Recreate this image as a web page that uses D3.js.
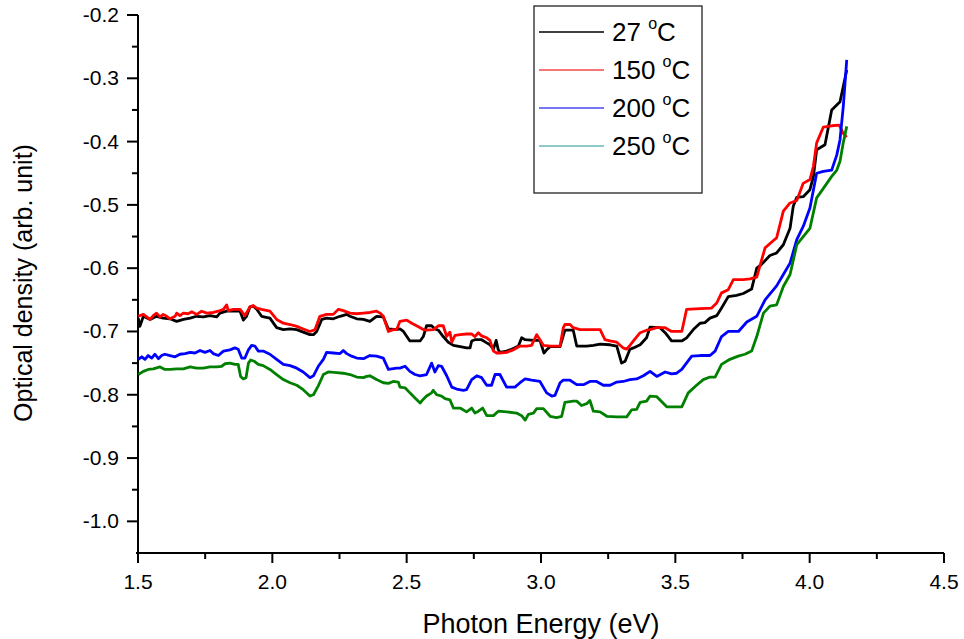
<!DOCTYPE html>
<html>
<head>
<meta charset="utf-8">
<script src="https://cdn.jsdelivr.net/npm/d3@7"></script>
<style>
  html, body { margin: 0; padding: 0; background: #fff; }
  svg { display: block; font-family: "Liberation Sans", Arial, sans-serif; }
</style>
</head>
<body>
<svg id="chart" width="964" height="639"></svg>
<script>
// Optical density spectra, [photon energy (eV), OD] pairs per anneal temperature
const od27 = [[1.501,-0.679],[1.507,-0.692],[1.520,-0.676],[1.545,-0.681],[1.569,-0.676],[1.594,-0.679],[1.619,-0.680],[1.644,-0.684],[1.669,-0.681],[1.694,-0.679],[1.718,-0.676],[1.743,-0.677],[1.768,-0.675],[1.793,-0.677],[1.805,-0.671],[1.830,-0.668],[1.855,-0.668],[1.880,-0.668],[1.892,-0.682],[1.904,-0.676],[1.917,-0.661],[1.929,-0.660],[1.942,-0.665],[1.960,-0.676],[1.991,-0.679],[2.016,-0.694],[2.041,-0.697],[2.066,-0.696],[2.091,-0.697],[2.115,-0.701],[2.140,-0.705],[2.153,-0.705],[2.165,-0.700],[2.184,-0.681],[2.202,-0.679],[2.227,-0.680],[2.252,-0.676],[2.277,-0.673],[2.289,-0.676],[2.314,-0.680],[2.339,-0.681],[2.363,-0.684],[2.388,-0.676],[2.413,-0.677],[2.432,-0.696],[2.463,-0.697],
  [2.475,-0.696],[2.488,-0.700],[2.512,-0.715],[2.550,-0.715],[2.562,-0.708],[2.574,-0.691],[2.593,-0.691],[2.605,-0.696],[2.618,-0.698],[2.636,-0.708],[2.655,-0.717],[2.674,-0.722],[2.699,-0.724],[2.723,-0.726],[2.736,-0.726],[2.742,-0.715],[2.754,-0.713],[2.779,-0.713],[2.798,-0.718],[2.810,-0.721],[2.823,-0.728],[2.833,-0.714],[2.841,-0.729],[2.847,-0.733],[2.872,-0.731],[2.891,-0.728],[2.916,-0.723],[2.928,-0.710],[2.941,-0.713],[2.972,-0.714],[2.996,-0.714],[3.011,-0.734],[3.021,-0.729],[3.034,-0.724],[3.071,-0.724],[3.089,-0.698],[3.120,-0.698],[3.133,-0.723],[3.170,-0.723],[3.195,-0.722],[3.220,-0.720],[3.257,-0.721],[3.282,-0.723],[3.300,-0.750],[3.313,-0.747],[3.331,-0.728],[3.344,-0.726],[3.369,-0.721],[3.393,-0.710],
  [3.406,-0.693],[3.443,-0.694],[3.462,-0.702],[3.486,-0.715],[3.524,-0.715],[3.542,-0.710],[3.567,-0.697],[3.592,-0.687],[3.610,-0.686],[3.629,-0.679],[3.654,-0.675],[3.672,-0.663],[3.697,-0.645],[3.728,-0.643],[3.753,-0.640],[3.784,-0.633],[3.803,-0.600],[3.821,-0.594],[3.852,-0.580],[3.877,-0.576],[3.902,-0.563],[3.927,-0.537],[3.939,-0.502],[3.952,-0.488],[3.976,-0.487],[4.001,-0.476],[4.014,-0.455],[4.026,-0.413],[4.057,-0.405],[4.082,-0.350],[4.113,-0.337],[4.125,-0.313],[4.138,-0.287]];

const od150 = [[1.501,-0.676],[1.520,-0.673],[1.545,-0.681],[1.557,-0.675],[1.569,-0.671],[1.582,-0.677],[1.594,-0.673],[1.607,-0.676],[1.619,-0.680],[1.638,-0.676],[1.644,-0.671],[1.656,-0.675],[1.669,-0.671],[1.687,-0.672],[1.700,-0.669],[1.718,-0.673],[1.737,-0.668],[1.756,-0.671],[1.780,-0.670],[1.799,-0.668],[1.818,-0.665],[1.830,-0.658],[1.836,-0.667],[1.855,-0.665],[1.880,-0.665],[1.898,-0.675],[1.917,-0.661],[1.929,-0.659],[1.942,-0.663],[1.960,-0.665],[1.991,-0.668],[2.016,-0.681],[2.041,-0.687],[2.066,-0.689],[2.091,-0.692],[2.115,-0.696],[2.140,-0.700],[2.159,-0.697],[2.177,-0.676],[2.202,-0.673],[2.227,-0.673],[2.246,-0.665],[2.264,-0.667],[2.289,-0.671],[2.314,-0.672],[2.339,-0.671],[2.363,-0.670],[2.388,-0.668],[2.401,-0.671],[2.413,-0.676],[2.432,-0.700],[2.450,-0.697],[2.463,-0.697],
  [2.475,-0.684],[2.500,-0.682],[2.519,-0.687],[2.537,-0.691],[2.562,-0.697],[2.574,-0.698],[2.599,-0.697],[2.618,-0.691],[2.636,-0.691],[2.649,-0.708],[2.661,-0.701],[2.668,-0.717],[2.680,-0.706],[2.699,-0.705],[2.723,-0.704],[2.742,-0.704],[2.754,-0.708],[2.767,-0.702],[2.779,-0.707],[2.798,-0.710],[2.810,-0.714],[2.823,-0.731],[2.835,-0.734],[2.847,-0.734],[2.872,-0.733],[2.897,-0.729],[2.922,-0.723],[2.947,-0.723],[2.965,-0.722],[2.984,-0.705],[2.996,-0.713],[3.009,-0.722],[3.034,-0.723],[3.071,-0.723],[3.083,-0.694],[3.089,-0.689],[3.108,-0.689],[3.120,-0.694],[3.145,-0.697],[3.170,-0.697],[3.195,-0.697],[3.220,-0.697],[3.238,-0.713],[3.257,-0.715],[3.282,-0.717],[3.306,-0.726],[3.319,-0.728],[3.331,-0.722],[3.344,-0.715],[3.369,-0.702],[3.393,-0.698],
  [3.406,-0.697],[3.431,-0.694],[3.462,-0.694],[3.486,-0.700],[3.524,-0.700],[3.542,-0.665],[3.592,-0.664],[3.635,-0.663],[3.654,-0.655],[3.672,-0.639],[3.697,-0.634],[3.716,-0.618],[3.753,-0.618],[3.778,-0.617],[3.803,-0.614],[3.834,-0.568],[3.877,-0.552],[3.902,-0.510],[3.927,-0.497],[3.952,-0.493],[3.976,-0.466],[4.001,-0.460],[4.014,-0.439],[4.026,-0.402],[4.051,-0.377],[4.082,-0.375],[4.110,-0.374],[4.125,-0.387],[4.138,-0.393]];

const od200 = [[1.501,-0.744],[1.514,-0.740],[1.526,-0.744],[1.538,-0.738],[1.551,-0.742],[1.563,-0.736],[1.576,-0.743],[1.588,-0.738],[1.600,-0.736],[1.619,-0.738],[1.638,-0.740],[1.656,-0.736],[1.675,-0.735],[1.694,-0.733],[1.712,-0.734],[1.731,-0.730],[1.749,-0.733],[1.768,-0.730],[1.780,-0.735],[1.799,-0.738],[1.818,-0.731],[1.842,-0.729],[1.861,-0.726],[1.873,-0.728],[1.886,-0.742],[1.898,-0.742],[1.911,-0.729],[1.923,-0.722],[1.935,-0.723],[1.948,-0.731],[1.966,-0.731],[1.991,-0.736],[2.016,-0.744],[2.041,-0.752],[2.066,-0.754],[2.091,-0.758],[2.115,-0.764],[2.140,-0.773],[2.153,-0.770],[2.171,-0.755],[2.190,-0.744],[2.202,-0.733],[2.227,-0.734],[2.252,-0.735],[2.264,-0.730],[2.277,-0.735],[2.295,-0.739],[2.314,-0.742],[2.339,-0.743],[2.363,-0.738],[2.388,-0.739],[2.413,-0.742],[2.432,-0.760],[2.463,-0.758],
  [2.475,-0.758],[2.494,-0.755],[2.512,-0.763],[2.531,-0.768],[2.550,-0.770],[2.574,-0.768],[2.593,-0.750],[2.605,-0.764],[2.618,-0.754],[2.630,-0.755],[2.649,-0.770],[2.668,-0.788],[2.686,-0.791],[2.711,-0.793],[2.723,-0.792],[2.742,-0.776],[2.761,-0.770],[2.779,-0.773],[2.798,-0.785],[2.816,-0.785],[2.829,-0.768],[2.847,-0.768],[2.872,-0.788],[2.903,-0.788],[2.922,-0.781],[2.941,-0.775],[2.965,-0.777],[2.996,-0.779],[3.021,-0.797],[3.040,-0.802],[3.052,-0.801],[3.071,-0.781],[3.083,-0.777],[3.108,-0.777],[3.133,-0.784],[3.158,-0.784],[3.182,-0.779],[3.207,-0.779],[3.232,-0.785],[3.257,-0.785],[3.282,-0.780],[3.306,-0.779],[3.331,-0.776],[3.356,-0.775],[3.381,-0.770],
  [3.406,-0.763],[3.431,-0.771],[3.462,-0.764],[3.486,-0.767],[3.505,-0.766],[3.524,-0.760],[3.561,-0.739],[3.592,-0.738],[3.629,-0.738],[3.648,-0.731],[3.672,-0.708],[3.697,-0.700],[3.735,-0.700],[3.766,-0.685],[3.803,-0.676],[3.834,-0.650],[3.877,-0.628],[3.902,-0.610],[3.927,-0.592],[3.952,-0.555],[3.976,-0.534],[4.001,-0.505],[4.026,-0.450],[4.051,-0.447],[4.082,-0.445],[4.101,-0.421],[4.113,-0.397],[4.125,-0.345],[4.138,-0.271]];

const od250 = [[1.501,-0.768],[1.520,-0.763],[1.538,-0.760],[1.557,-0.759],[1.582,-0.756],[1.600,-0.760],[1.619,-0.760],[1.644,-0.759],[1.669,-0.759],[1.694,-0.756],[1.718,-0.758],[1.743,-0.758],[1.768,-0.756],[1.793,-0.756],[1.811,-0.755],[1.824,-0.751],[1.842,-0.750],[1.861,-0.752],[1.873,-0.752],[1.882,-0.771],[1.892,-0.775],[1.902,-0.773],[1.911,-0.750],[1.919,-0.745],[1.932,-0.747],[1.948,-0.752],[1.966,-0.754],[1.991,-0.760],[2.016,-0.768],[2.041,-0.776],[2.066,-0.781],[2.091,-0.785],[2.115,-0.792],[2.140,-0.802],[2.153,-0.800],[2.171,-0.786],[2.190,-0.768],[2.208,-0.764],[2.239,-0.765],[2.264,-0.766],[2.289,-0.768],[2.314,-0.772],[2.339,-0.773],[2.351,-0.771],[2.363,-0.770],[2.388,-0.776],[2.413,-0.781],[2.432,-0.782],[2.450,-0.779],[2.469,-0.780],
  [2.475,-0.788],[2.494,-0.789],[2.512,-0.797],[2.531,-0.805],[2.550,-0.813],[2.562,-0.807],[2.574,-0.802],[2.593,-0.797],[2.599,-0.793],[2.612,-0.800],[2.630,-0.802],[2.643,-0.806],[2.661,-0.808],[2.674,-0.821],[2.699,-0.821],[2.723,-0.827],[2.742,-0.821],[2.754,-0.829],[2.767,-0.826],[2.783,-0.821],[2.798,-0.833],[2.823,-0.833],[2.841,-0.826],[2.872,-0.827],[2.909,-0.829],[2.928,-0.833],[2.941,-0.840],[2.953,-0.831],[2.972,-0.829],[2.984,-0.822],[3.009,-0.822],[3.034,-0.834],[3.058,-0.836],[3.077,-0.834],[3.089,-0.812],[3.120,-0.810],[3.133,-0.810],[3.151,-0.817],[3.170,-0.814],[3.182,-0.809],[3.195,-0.826],[3.220,-0.827],[3.245,-0.834],[3.282,-0.835],[3.319,-0.835],[3.337,-0.824],[3.356,-0.823],[3.369,-0.812],[3.393,-0.810],
  [3.406,-0.802],[3.431,-0.803],[3.468,-0.819],[3.524,-0.819],[3.548,-0.797],[3.579,-0.785],[3.604,-0.776],[3.629,-0.772],[3.648,-0.772],[3.672,-0.752],[3.703,-0.744],[3.734,-0.739],[3.759,-0.736],[3.784,-0.731],[3.803,-0.708],[3.828,-0.671],[3.852,-0.660],[3.877,-0.658],[3.902,-0.629],[3.927,-0.610],[3.952,-0.563],[3.976,-0.550],[4.001,-0.537],[4.026,-0.489],[4.051,-0.474],[4.082,-0.455],[4.101,-0.445],[4.113,-0.431],[4.125,-0.402],[4.138,-0.376]];

const temperatures = ["27", "150", "200", "250"];
const lineColors = ["#000000", "#ff0000", "#0000ff", "#008000"];
const legendColors = ["#000000", "#f04a4a", "#4a4af0", "#6ab8b8"];
const xTicks = [1.5, 2.0, 2.5, 3.0, 3.5, 4.0, 4.5];
const yTicks = [-0.2, -0.3, -0.4, -0.5, -0.6, -0.7, -0.8, -0.9, -1.0];

const series = [od27, od150, od200, od250];

// one decimal, plain hyphen-minus for negatives
const fmt = d => d3.format(".1f")(d).replace("\u2212", "-");

const svg = d3.select("#chart");
const x = d3.scaleLinear().domain([1.5, 4.5]).range([138, 944]);
const y = d3.scaleLinear().domain([-1.05, -0.2]).range([553, 15]);

// bottom axis with major + minor ticks
const xAxisG = svg.append("g").attr("transform", "translate(0,553)");
xAxisG.append("line").attr("x1", 136).attr("x2", 944).attr("stroke", "#000").attr("stroke-width", 2);
xAxisG.call(g => {
  const minors = d3.range(1.75, 4.5, 0.5);
  g.selectAll(".minor").data(minors).join("line")
    .attr("x1", d => x(d)).attr("x2", d => x(d))
    .attr("y1", 0).attr("y2", 6).attr("stroke", "#000").attr("stroke-width", 2);
  g.selectAll(".major").data(xTicks).join("line")
    .attr("x1", d => x(d)).attr("x2", d => x(d))
    .attr("y1", 0).attr("y2", 10).attr("stroke", "#000").attr("stroke-width", 2);
  g.selectAll(".lbl").data(xTicks).join("text")
    .attr("x", d => x(d)).attr("y", 36)
    .attr("text-anchor", "middle").attr("font-size", 21)
    .text(fmt);
});

// left axis
const yAxisG = svg.append("g").attr("transform", "translate(138,0)");
yAxisG.append("line").attr("y1", 15).attr("y2", 563).attr("stroke", "#000").attr("stroke-width", 2);
yAxisG.call(g => {
  const minors = d3.range(-0.25, -1.05, -0.1);
  g.selectAll(".minor").data(minors).join("line")
    .attr("y1", d => y(d)).attr("y2", d => y(d))
    .attr("x1", 0).attr("x2", -6).attr("stroke", "#000").attr("stroke-width", 2);
  g.selectAll(".major").data(yTicks).join("line")
    .attr("y1", d => y(d)).attr("y2", d => y(d))
    .attr("x1", 0).attr("x2", -11).attr("stroke", "#000").attr("stroke-width", 2);
  g.selectAll(".lbl").data(yTicks).join("text")
    .attr("x", -19).attr("y", d => y(d) + 7)
    .attr("text-anchor", "end").attr("font-size", 21)
    .text(fmt);
});

// axis titles
svg.append("text").attr("x", 541).attr("y", 633).attr("text-anchor", "middle")
  .attr("font-size", 27).text("Photon Energy (eV)");
svg.append("text").attr("transform", "translate(32,283) rotate(-90)")
  .attr("text-anchor", "middle").attr("font-size", 25).text("Optical density (arb. unit)");

// spectra
const line = d3.line().x(d => x(d[0])).y(d => y(d[1]));
svg.append("g").selectAll("path").data(series).join("path")
  .attr("d", line)
  .attr("fill", "none")
  .attr("stroke", (d, i) => lineColors[i])
  .attr("stroke-width", 2.8)
  .attr("stroke-linejoin", "round");

// legend
const lg = svg.append("g");
lg.append("rect").attr("x", 534).attr("y", 6).attr("width", 168).attr("height", 187)
  .attr("fill", "#fff").attr("stroke", "#222").attr("stroke-width", 1.3);
const rows = lg.selectAll(".row").data(temperatures).join("g")
  .attr("transform", (d, i) => `translate(0,${32 + i * 38})`);
rows.append("line").attr("x1", 539).attr("x2", 604).attr("y1", 0).attr("y2", 0)
  .attr("stroke", (d, i) => legendColors[i]).attr("stroke-width", 1.6);
const t = rows.append("text").attr("x", 612).attr("y", 9).attr("font-size", 26);
t.append("tspan").text(d => d + " ");
t.append("tspan").attr("font-size", 16).attr("dy", -12).text("o");
t.append("tspan").attr("dy", 12).text("C");
</script>
</body>
</html>
